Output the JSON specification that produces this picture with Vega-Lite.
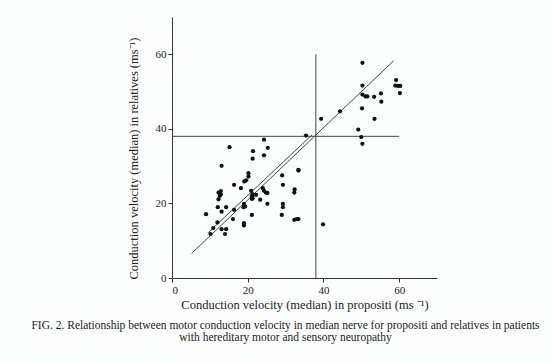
{
  "$schema": "https://vega.github.io/schema/vega-lite/v6.json",
  "autosize": "none",
  "width": 265,
  "height": 261,
  "padding": {"left": 172, "top": 17, "right": 115, "bottom": 85},
  "background": "#fdfefe",
  "title": {
    "text": ["FIG. 2. Relationship between motor conduction velocity in median nerve for propositi and relatives in patients", "with hereditary motor and sensory neuropathy"],
    "orient": "bottom",
    "anchor": "middle",
    "frame": "group",
    "font": "Liberation Serif",
    "fontSize": 11.5,
    "fontWeight": "normal",
    "color": "#222",
    "lineHeight": 12,
    "offset": 9,
    "dx": -19
  },
  "datasets": {
    "points": [
      {"p": 15.2, "r": 35.1}, {"p": 21.4, "r": 34.0}, {"p": 24.3, "r": 37.1}, {"p": 25.3, "r": 34.9}, {"p": 21.3, "r": 32.0}, {"p": 24.3, "r": 32.9}, {"p": 13.1, "r": 30.1},
      {"p": 50.3, "r": 57.7}, {"p": 50.3, "r": 51.6}, {"p": 50.3, "r": 49.2}, {"p": 51.1, "r": 48.7}, {"p": 51.6, "r": 48.7}, {"p": 53.4, "r": 48.6}, {"p": 55.2, "r": 49.5}, {"p": 55.3, "r": 47.3}, {"p": 59.2, "r": 53.1}, {"p": 59.0, "r": 51.6}, {"p": 59.7, "r": 51.5}, {"p": 60.3, "r": 51.5}, {"p": 60.2, "r": 49.6}, {"p": 50.2, "r": 45.5}, {"p": 44.4, "r": 44.7}, {"p": 39.4, "r": 42.7}, {"p": 53.5, "r": 42.7}, {"p": 49.2, "r": 39.8}, {"p": 50.0, "r": 37.8}, {"p": 50.3, "r": 36.0}, {"p": 35.4, "r": 38.2}, {"p": 33.4, "r": 29.0},
      {"p": 20.2, "r": 28.1}, {"p": 20.2, "r": 27.2}, {"p": 19.6, "r": 26.2}, {"p": 19.1, "r": 25.9}, {"p": 16.4, "r": 25.0}, {"p": 18.2, "r": 24.1}, {"p": 12.3, "r": 22.9}, {"p": 12.9, "r": 23.3}, {"p": 12.9, "r": 22.4}, {"p": 12.3, "r": 21.1}, {"p": 12.6, "r": 22.0}, {"p": 9.0, "r": 17.1}, {"p": 12.1, "r": 19.0}, {"p": 13.1, "r": 17.8}, {"p": 14.3, "r": 19.0}, {"p": 16.4, "r": 18.3}, {"p": 16.1, "r": 15.8}, {"p": 12.0, "r": 14.9}, {"p": 10.9, "r": 13.4}, {"p": 13.1, "r": 13.1}, {"p": 14.3, "r": 13.1}, {"p": 14.0, "r": 11.8}, {"p": 10.2, "r": 11.8}, {"p": 19.0, "r": 19.9}, {"p": 19.3, "r": 19.2}, {"p": 18.9, "r": 19.0}, {"p": 19.0, "r": 14.7}, {"p": 19.0, "r": 14.1}, {"p": 21.1, "r": 16.9}, {"p": 20.9, "r": 23.4}, {"p": 21.3, "r": 22.5}, {"p": 21.1, "r": 22.0}, {"p": 21.3, "r": 21.4}, {"p": 21.1, "r": 21.2}, {"p": 22.2, "r": 22.3}, {"p": 23.3, "r": 21.0}, {"p": 24.0, "r": 24.1}, {"p": 24.3, "r": 23.4}, {"p": 24.8, "r": 22.9}, {"p": 25.2, "r": 22.8}, {"p": 25.2, "r": 19.9}, {"p": 29.1, "r": 27.5}, {"p": 29.3, "r": 25.0}, {"p": 29.3, "r": 19.9}, {"p": 29.3, "r": 19.0}, {"p": 29.0, "r": 16.9}, {"p": 32.4, "r": 23.8}, {"p": 32.3, "r": 22.9}, {"p": 33.4, "r": 28.8}, {"p": 32.3, "r": 15.6}, {"p": 33.0, "r": 15.8}, {"p": 33.4, "r": 15.8}, {"p": 39.9, "r": 14.4}
    ],
    "segments": [
      {"x1": 0, "y1": 38, "x2": 60, "y2": 38},
      {"x1": 38, "y1": 0, "x2": 38, "y2": 60},
      {"x1": 5.2, "y1": 6.6, "x2": 58.5, "y2": 58.2},
      {"x1": 9.6, "y1": 12.2, "x2": 37.0, "y2": 38.4},
      {"x1": 9.6, "y1": 12.2, "x2": 10.2, "y2": 11.5}
    ]
  },
  "config": {
    "view": {"stroke": null},
    "axis": {
      "grid": false,
      "domainColor": "#333",
      "domainWidth": 1,
      "tickColor": "#333",
      "tickSize": 4,
      "labelFont": "Liberation Serif",
      "labelFontSize": 11,
      "labelColor": "#222",
      "titleFont": "Liberation Serif",
      "titleFontSize": 12.5,
      "titleFontWeight": "normal",
      "titleColor": "#222"
    }
  },
  "layer": [
    {
      "data": {"name": "segments"},
      "mark": {"type": "rule", "color": "#444", "strokeWidth": 1},
      "encoding": {
        "x": {"field": "x1", "type": "quantitative", "scale": {"domain": [0, 70], "nice": false},
          "axis": {"values": [0, 20, 40, 60], "title": "Conduction velocity (median) in propositi (ms ⁻¹)", "labelPadding": 2, "titleBaseline": "middle", "titleY": 26}},
        "y": {"field": "y1", "type": "quantitative", "scale": {"domain": [0, 70], "nice": false},
          "axis": {"values": [0, 20, 40, 60], "title": "Conduction velocity (median) in relatives (ms⁻¹)", "labelPadding": 2, "titleBaseline": "middle", "titleX": -39, "titleY": 141}},
        "x2": {"field": "x2"},
        "y2": {"field": "y2"}
      }
    },
    {
      "data": {"name": "points"},
      "mark": {"type": "circle", "color": "#111", "opacity": 1, "size": 18},
      "encoding": {
        "x": {"field": "p", "type": "quantitative"},
        "y": {"field": "r", "type": "quantitative"}
      }
    }
  ]
}
